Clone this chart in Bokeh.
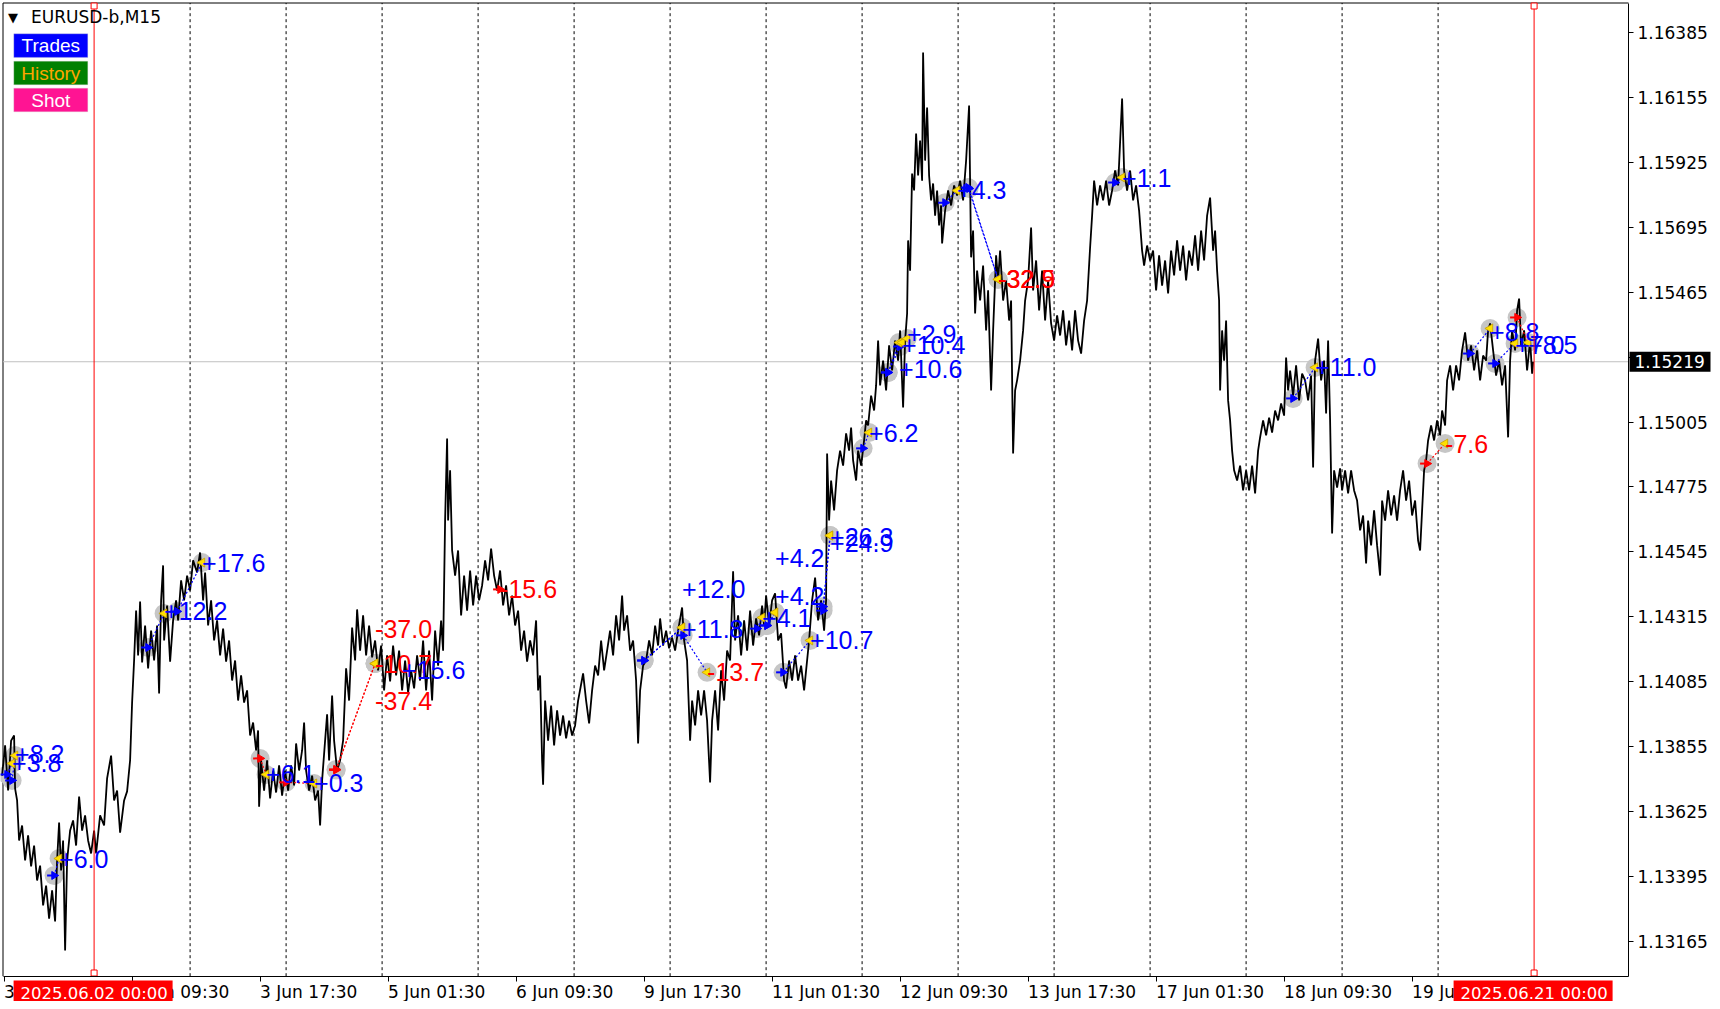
import math
from bokeh.plotting import figure
from bokeh.models import Label, FixedTicker, PrintfTickFormatter, ColumnDataSource, BoxAnnotation
from bokeh.core.properties import value
from bokeh.embed import file_html
from bokeh.resources import INLINE

# ---------------- data ----------------
SYMBOL = "EURUSD-b,M15"
BARS_PER_DAY = 96  # M15 bars
trading_days = ["30 May", "2 Jun", "3 Jun", "4 Jun", "5 Jun", "6 Jun", "9 Jun", "10 Jun",
                "11 Jun", "12 Jun", "13 Jun", "16 Jun", "17 Jun", "18 Jun", "19 Jun", "20 Jun", "21 Jun"]
tick_labels = ["30 May 01:30", "2 Jun 09:30", "3 Jun 17:30", "5 Jun 01:30", "6 Jun 09:30",
               "9 Jun 17:30", "11 Jun 01:30", "12 Jun 09:30", "13 Jun 17:30", "17 Jun 01:30",
               "18 Jun 09:30", "19 Jun 17:30"]
marker_days = ["2 Jun", "21 Jun"]
marker_texts = ["2025.06.02 00:00", "2025.06.21 00:00"]
current_price = 1.15219
y_ticks = [1.13165, 1.13395, 1.13625, 1.13855, 1.14085, 1.14315, 1.14545, 1.14775,
           1.15005, 1.15235, 1.15465, 1.15695, 1.15925, 1.16155, 1.16385]
y_tick_text = ["1.13165", "1.13395", "1.13625", "1.13855", "1.14085", "1.14315", "1.14545", "1.14775",
               "1.15005", "", "1.15465", "1.15695", "1.15925", "1.16155", "1.16385"]

# price path (bar number from 2025.06.02 00:00, price), swing points
price_bar = [
    -92, -89, -86, -83, -80, -79, -77, -75, -72, -69, -66, -63, -60, -57, -54, -51, -48, -45, -42, -39,
    -37, -35, -33, -31, -29, -27, -24, -21, -18, -15, -12, -9, -6, -3,
    0, 2, 6, 10, 13, 17, 20, 23, 26, 30, 33, 36, 38, 40, 42, 44, 46, 48, 51, 54, 57, 60, 63, 65, 67, 69,
    70, 73, 76, 79, 82, 84, 87, 90, 93, 96, 99, 103, 106,
    109, 111, 114, 117, 120, 123, 126, 129, 132, 135, 138, 141, 144, 147, 150, 153, 156, 159, 162, 164,
    165, 167, 170, 173, 176, 179, 182, 185, 188, 191,
    194, 197, 200, 202, 205, 208, 210, 212, 215, 218, 221, 224, 226, 228, 231, 233, 235, 238, 240, 243,
    246, 249, 252, 255, 258, 261, 263, 266, 269, 272, 275, 278, 281, 284, 287,
    290, 293, 296, 299, 302, 305, 308, 311, 314, 317, 320, 323, 326, 329, 332, 335, 338, 341, 344, 347,
    349, 351, 353, 354, 356, 358, 361, 364, 367, 370, 373, 376, 379, 382, 385,
    388, 391, 394, 397, 400, 403, 406, 409, 412, 415, 418, 421, 424, 427, 430, 433, 436, 439, 442, 444,
    446, 448, 449, 451, 454, 457, 460, 463, 466, 469, 472, 475, 478, 481,
    484, 489, 492, 495, 498, 501, 504, 507, 510, 513, 516, 519, 522, 525, 528, 530, 533, 536, 539, 542,
    544, 546, 549, 552, 555, 558, 561, 564, 566, 569, 572, 575,
    578, 581, 584, 588, 590, 593, 596, 598, 601, 604, 607, 610, 613, 616, 618, 621, 624, 627, 630, 633,
    636, 639, 641, 644, 647, 650, 653, 656, 659, 662, 665, 668, 670, 672,
    675, 678, 681, 684, 687, 690, 692, 695, 698, 701, 704, 707, 710, 712, 715, 718, 721, 724, 727, 730,
    732, 733, 735, 737, 740, 743, 746, 749, 752, 755, 757, 759, 762, 764, 767,
    770, 772, 774, 777, 780, 782, 784, 786, 789, 792, 795, 798, 801, 804, 806, 809, 811, 813, 814, 816,
    818, 820, 822, 824, 826, 828, 829, 831, 833, 835, 837, 839, 841, 843, 845, 847, 848, 851, 854, 857,
    860, 863,
    866, 869, 872, 875, 877, 879, 881, 883, 886, 889, 892, 894, 897, 899, 902, 904, 906, 909, 912, 915,
    917, 919, 921, 923, 926, 929, 931, 934, 937, 939, 942, 945, 948, 951, 954, 957,
    960, 963, 966, 969, 972, 975, 978, 981, 984, 987, 990, 993, 996, 998, 1000, 1003, 1006, 1009, 1012,
    1015, 1018, 1021, 1024, 1028, 1030, 1033, 1036, 1039, 1042, 1045, 1048, 1050, 1053, 1056,
    1059, 1062, 1065, 1068, 1071, 1074, 1077, 1080, 1083, 1086, 1089, 1092, 1095, 1098, 1101, 1104, 1107,
    1110, 1113, 1116, 1119, 1121, 1123, 1125, 1126, 1128, 1130, 1132, 1134, 1136, 1138, 1140, 1143, 1146,
    1149, 1152,
    1155, 1158, 1161, 1164, 1166, 1169, 1172, 1175, 1178, 1181, 1184, 1187, 1190, 1192, 1194, 1196, 1199,
    1202, 1205, 1208, 1211, 1214, 1217, 1219, 1221, 1224, 1227, 1230, 1232, 1234, 1236, 1238, 1240, 1243,
    1246, 1248,
    1251, 1254, 1257, 1260, 1263, 1266, 1269, 1272, 1274, 1277, 1280, 1283, 1286, 1288, 1291, 1294, 1297,
    1300, 1303, 1306, 1309, 1312, 1315, 1318, 1321, 1324, 1326, 1328, 1330, 1332, 1334, 1337, 1340, 1343,
    1346,
    1348, 1351, 1353, 1356, 1359, 1362, 1365, 1368, 1371, 1374, 1377, 1380, 1383, 1386, 1389, 1392, 1394,
    1396, 1399, 1402, 1405, 1408, 1411, 1414, 1416, 1418, 1421, 1423, 1425, 1427, 1430, 1433, 1436, 1438,
    1439,
]
price_value = [
    1.13752, 1.13859, 1.13699, 1.13876, 1.13894, 1.13706, 1.13664, 1.13522, 1.13575, 1.13451, 1.13540,
    1.13430, 1.13504, 1.13380, 1.13433, 1.13292, 1.13362, 1.13245, 1.13345, 1.13235,
    1.13451, 1.13586, 1.13416, 1.13522, 1.13132, 1.13451, 1.13557, 1.13593, 1.13504, 1.13678, 1.13557,
    1.13611, 1.13522, 1.13476,
    1.13557, 1.13476, 1.13611, 1.13575, 1.13742, 1.13823, 1.13664, 1.13699, 1.13550, 1.13664, 1.13696,
    1.13806, 1.14011, 1.14160, 1.14337, 1.14178, 1.14369, 1.14153, 1.14284, 1.14132, 1.14266, 1.14160,
    1.14284, 1.14043, 1.14373, 1.14497,
    1.14231, 1.14355, 1.14156, 1.14302, 1.14373, 1.14302, 1.14444, 1.14373, 1.14461, 1.14408, 1.14515,
    1.14472, 1.14543,
    1.14373, 1.14472, 1.14284, 1.14373, 1.14231, 1.14302, 1.14178, 1.14273, 1.14156, 1.14231, 1.14089,
    1.14160, 1.14018, 1.14107, 1.14011, 1.14054, 1.13894, 1.13940, 1.13841, 1.13912,
    1.13642, 1.13806, 1.13699, 1.13806, 1.13671, 1.13770, 1.13692, 1.13788, 1.13681, 1.13770,
    1.13699, 1.13788, 1.13717, 1.13866, 1.13770, 1.13841, 1.13940, 1.13770, 1.13699, 1.13752, 1.13664,
    1.13699, 1.13575, 1.13735, 1.13876, 1.13969, 1.13806, 1.14036, 1.13876, 1.13770,
    1.13806, 1.13876, 1.14132, 1.14018, 1.14277, 1.14160, 1.14341, 1.14195, 1.14320, 1.14178, 1.14284,
    1.14171, 1.14231, 1.14125, 1.14213,
    1.14054, 1.14178, 1.14086, 1.14213, 1.14107, 1.14195, 1.14054, 1.14160, 1.14047, 1.14125, 1.14061,
    1.14178, 1.14089, 1.14231, 1.14054, 1.14195, 1.14018, 1.14266, 1.14142, 1.14302,
    1.14195, 1.14656, 1.14947, 1.14656, 1.14834, 1.14550, 1.14461, 1.14550, 1.14320, 1.14461, 1.14337,
    1.14479, 1.14355, 1.14461, 1.14373,
    1.14426, 1.14515, 1.14444, 1.14557, 1.14461, 1.14408, 1.14479, 1.14355, 1.14426, 1.14320, 1.14390,
    1.14284, 1.14337, 1.14195, 1.14266, 1.14156, 1.14231, 1.14178, 1.14302, 1.14054,
    1.14107, 1.13806, 1.13720, 1.14018, 1.13876, 1.14000, 1.13859, 1.13983, 1.13894, 1.13965, 1.13884,
    1.13947, 1.13894, 1.13930,
    1.14018, 1.14114, 1.14018, 1.13937, 1.14054, 1.14142, 1.14107, 1.14231, 1.14125, 1.14195, 1.14266,
    1.14178, 1.14320, 1.14231, 1.14390, 1.14266, 1.14320, 1.14195, 1.14231, 1.14089,
    1.13866, 1.14054, 1.14142, 1.14160, 1.14231, 1.14178, 1.14284, 1.14213, 1.14309, 1.14213, 1.14266,
    1.14203,
    1.14242, 1.14195, 1.14266, 1.14348, 1.14231, 1.14160, 1.13876, 1.14018, 1.13930, 1.14054, 1.13965,
    1.14054, 1.13947, 1.13728, 1.13947, 1.14054, 1.13912, 1.14125, 1.14018, 1.14195,
    1.14160, 1.14476, 1.14231, 1.14320, 1.14178, 1.14302, 1.14195, 1.14337, 1.14213, 1.14309, 1.14249,
    1.14355, 1.14284, 1.14390,
    1.14284, 1.14373, 1.14398, 1.14231, 1.14256, 1.14089, 1.14061, 1.14160, 1.14089, 1.14178, 1.14089,
    1.14142, 1.14054, 1.14125, 1.14231, 1.14373, 1.14454, 1.14302, 1.14373, 1.14266,
    1.14373, 1.14894, 1.14656, 1.14798, 1.14692, 1.14834, 1.14904, 1.14851, 1.14965, 1.14904, 1.14986,
    1.14869, 1.14798, 1.14904, 1.14851,
    1.14940, 1.15011, 1.14993, 1.15099, 1.15046, 1.15135, 1.15294, 1.15135, 1.15223, 1.15117, 1.15277,
    1.15188, 1.15294, 1.15223, 1.15330, 1.15057, 1.15294, 1.15390, 1.15649, 1.15542,
    1.15886, 1.15826, 1.16028, 1.15879, 1.16003, 1.15861, 1.16315, 1.15932, 1.16120, 1.15879, 1.15791,
    1.15851, 1.15737, 1.15826, 1.15702, 1.15773, 1.15638, 1.15755, 1.15826, 1.15773,
    1.15844, 1.15808,
    1.15861, 1.15791, 1.15932, 1.16127, 1.15589, 1.15684, 1.15390, 1.15542, 1.15436, 1.15560, 1.15330,
    1.15472, 1.15117, 1.15330, 1.15596, 1.15507, 1.15613, 1.15436, 1.15507, 1.15365,
    1.15436, 1.14894, 1.15117, 1.15153, 1.15223, 1.15330, 1.15436, 1.15507, 1.15695, 1.15472, 1.15578,
    1.15401, 1.15542, 1.15365, 1.15507, 1.15355,
    1.15294, 1.15383, 1.15312, 1.15401, 1.15277, 1.15365, 1.15259, 1.15401, 1.15294, 1.15248, 1.15365,
    1.15436, 1.15624, 1.15737, 1.15861, 1.15773, 1.15844, 1.15791, 1.15861,
    1.15773, 1.15826, 1.15897, 1.15844, 1.16152, 1.15897, 1.15826, 1.15897, 1.15791, 1.15844, 1.15755,
    1.15613, 1.15560, 1.15631, 1.15578,
    1.15613, 1.15472, 1.15596, 1.15489, 1.15578, 1.15461, 1.15613, 1.15525, 1.15649, 1.15542, 1.15631,
    1.15507, 1.15613, 1.15560, 1.15667, 1.15542, 1.15684,
    1.15578, 1.15737, 1.15801, 1.15613, 1.15684, 1.15542, 1.15436, 1.15117, 1.15330, 1.15223, 1.15365,
    1.15082, 1.15011, 1.14904, 1.14834, 1.14798, 1.14851,
    1.14763, 1.14834,
    1.14763, 1.14851, 1.14752, 1.14904, 1.14951, 1.15011, 1.14958, 1.15021, 1.14968, 1.15046, 1.15011,
    1.15071, 1.15028, 1.15234, 1.15117, 1.15188, 1.15099,
    1.15206, 1.15082, 1.15177, 1.15153, 1.15082, 1.15170, 1.14844, 1.15223, 1.15301, 1.15153, 1.15223,
    1.15036, 1.15294, 1.15011, 1.14610, 1.14834, 1.14773,
    1.14841, 1.14763,
    1.14834, 1.14752, 1.14834, 1.14763, 1.14727, 1.14621, 1.14674, 1.14504, 1.14656, 1.14568, 1.14692,
    1.14568, 1.14461, 1.14727, 1.14656, 1.14763, 1.14674,
    1.14745, 1.14656, 1.14763, 1.14834, 1.14727, 1.14798, 1.14674, 1.14727, 1.14585, 1.14550, 1.14692,
    1.14834, 1.14869, 1.14940, 1.14993, 1.14940, 1.15011,
    1.14958,
    1.15046, 1.14993, 1.15153, 1.15206, 1.15117, 1.15206, 1.15153, 1.15259, 1.15323, 1.15223, 1.15277,
    1.15188, 1.15259, 1.15153, 1.15241, 1.15223, 1.15330,
    1.15355, 1.15259, 1.15170, 1.15223, 1.15135, 1.15206, 1.14951, 1.15223, 1.15330, 1.15259, 1.15401,
    1.15443, 1.15277, 1.15330, 1.15188, 1.15294, 1.15177,
    1.15219,
]

# closed trades (history)
trade_type = ["buy", "buy", "buy", "buy", "buy", "sell", "sell", "sell", "sell", "sell",
              "buy", "buy", "buy", "buy", "buy", "buy", "buy", "buy", "buy", "buy",
              "buy", "buy", "buy", "buy", "buy", "buy", "buy", "buy", "sell", "buy", "buy", "sell"]
open_bar = [-87, -82, -40, 54, 83, 166, 192, 242, 242, None,
            550, 550, 589, 663, 673, 673, 689, 729, 729, 769,
            794, 794, 806, 851, 874, 875, 1021, 1199, 1333, 1376, 1401, 1423]
open_price = [1.13756, 1.13735, 1.13398, 1.14206, 1.14334, 1.13813, 1.13728, 1.13774, 1.13772, None,
              1.14160, 1.14160, 1.14249, 1.14273, 1.14284, 1.14284, 1.14118, 1.14337, 1.14351, 1.14912,
              1.15181, 1.15181, 1.15273, 1.15783, 1.15837, 1.15833, 1.15854, 1.15089, 1.14858, 1.15248,
              1.15213, 1.15376]
close_bar = [-82, -79, -35, 70, 108, 172, 220, 281, 281, 281,
             588, 588, 613, 668, 681, 681, 716, 736, 736, 775,
             805, 808, 813, 863, 904, 904, 1028, 1221, 1351, 1396, 1421, 1434]
close_price = [1.13795, 1.13823, 1.13458, 1.14327, 1.14507, 1.13756, 1.13724, 1.14149, 1.14149, 1.14149,
               1.14277, 1.14277, 1.14118, 1.14312, 1.14330, 1.14330, 1.14231, 1.14603, 1.14603, 1.14968,
               1.15287, 1.15287, 1.15301, 1.15826, 1.15511, 1.15511, 1.15872, 1.15199, 1.14929, 1.15337,
               1.15284, 1.15287]
trade_profit = [3.8, 8.2, 6.0, 12.2, 17.6, 6.1, 0.3, -37.0, -37.4, -10.7,
                11.8, 12.0, -13.7, 4.1, 4.2, 4.2, 10.7, 26.3, 24.9, 6.2,
                10.6, 10.4, 2.9, 4.3, -32.9, -32.5, 1.1, 11.0, -7.6, 8.8, 7.0, 8.5]
label_price = [1.13795, 1.13830, 1.13458, 1.14334, 1.14507, 1.13759, 1.13724, 1.14273, 1.14018, 1.14149,
               1.14273, 1.14415, 1.14118, 1.14309, 1.14390, 1.14525, 1.14231, 1.14596, 1.14575, 1.14965,
               1.15195, 1.15277, 1.15316, 1.15826, 1.15514, 1.15514, 1.15869, 1.15199, 1.14929, 1.15326,
               1.15277, 1.15277]

# loose labels without a full trade on screen
loose_type = ["buy", "sell"]
loose_bar = [308, 406]
loose_price = [1.14125, 1.14412]
loose_profit = [15.6, -15.6]

panel_buttons = ["Trades", "History", "Shot"]
panel_fill = ["#0000FF", "#008000", "#FF1493"]
panel_text = ["#FFFFFF", "#FFA500", "#FFFFFF"]

# ---------------- helpers ----------------
def bar_of(day, hhmm="00:00"):
    h, m = (int(v) for v in hhmm.split(":"))
    return (trading_days.index(day) - trading_days.index("2 Jun")) * BARS_PER_DAY + h * 4 + m // 15

def fmt_profit(v):
    return ("+" if v >= 0 else "-") + f"{abs(v):.1f}"

BUY_C, SELL_C = "#0000FF", "#FF0000"
AX_FONT = "DejaVu Sans"
LBL_FONT = "Liberation Sans"

# ---------------- layout (screen geometry of the terminal window) ----------------
W, H = 1712, 1001
PX_PER_PRICE = 28211.0          # chart pixels per price unit
BAR0_PX = 93.6                  # pixel column of bar 0

def fx(px):                     # window pixel column -> bar coordinate
    return px - BAR0_PX

def fy(py):                     # window pixel row -> price coordinate
    return y_ticks[-1] - (py - 32.3) / PX_PER_PRICE

X0, X1 = fx(0), fx(W)
Y0, Y1 = fy(H), fy(0)
XL, XR = fx(2.5), fx(1628)      # chart box
YT, YB = fy(2.5), fy(975.7)

p = figure(width=W, height=H, x_range=(X0, X1), y_range=(Y0, Y1),
           output_backend="svg", toolbar_location=None, y_axis_location="right",
           min_border_left=0, min_border_right=0, min_border_top=0, min_border_bottom=0)
p.xgrid.visible = False
p.ygrid.visible = False
p.outline_line_color = None
p.background_fill_color = "white"
p.border_fill_color = "white"

xa = p.xaxis[0]
tick_pos = []
for lbl in tick_labels:
    parts = lbl.split(" ")
    tick_pos.append(bar_of(parts[0] + " " + parts[1], parts[2]))
xa.fixed_location = YB
xa.bounds = (XL, XR)
xa.ticker = FixedTicker(ticks=tick_pos, minor_ticks=[])
xa.major_label_overrides = {b: l for b, l in zip(tick_pos, tick_labels)}
xa.major_label_orientation = -1e-6
xa.major_label_text_align = "left"
xa.major_label_text_font = AX_FONT
xa.major_label_text_font_size = "17px"
xa.major_label_text_color = "black"
xa.major_tick_out = 5
xa.major_tick_in = 0
xa.minor_tick_out = 0
xa.minor_tick_in = 0
xa.major_label_standoff = 11
xa.axis_line_color = "black"
xa.major_tick_line_color = "black"

ya = p.yaxis[0]
ya.fixed_location = XR
ya.bounds = (YB, YT)
ya.ticker = FixedTicker(ticks=y_ticks, minor_ticks=[])
ya.major_label_overrides = {t: s for t, s in zip(y_ticks, y_tick_text)}
ya.formatter = PrintfTickFormatter(format="%.5f")
ya.major_label_text_font = AX_FONT
ya.major_label_text_font_size = "17px"
ya.major_label_text_color = "black"
ya.major_tick_out = 5
ya.major_tick_in = 0
ya.minor_tick_out = 0
ya.minor_tick_in = 0
ya.major_label_standoff = 4
ya.axis_line_color = "black"

# chart box top / left edges
p.segment(x0=[XL, XL], y0=[YT, YB], x1=[XR, XL], y1=[YT, YT], line_color="black", line_width=1)

# day separators
sep = [bar_of(d) for d in trading_days[2:-1]]
p.segment(x0=sep, y0=[YB] * len(sep), x1=sep, y1=[YT] * len(sep), line_color="black",
          line_dash="3 3", line_width=1)

# current price line
p.segment(x0=[XL], y0=[current_price], x1=[XR], y1=[current_price], line_color="#C0C0C0", line_width=1)

# trade circles (under price)
cx, cy = [], []
for ob, op, cb, cp in zip(open_bar, open_price, close_bar, close_price):
    if ob is not None:
        cx.append(ob); cy.append(op)
    if cb is not None:
        cx.append(cb); cy.append(cp)
p.scatter(cx, cy, size=19, marker="circle", fill_color="#C6C6C6", line_color=None)

# price
p.line(price_bar, price_value, line_color="black", line_width=1.8)

# trade connection lines
seg = dict(x0=[], y0=[], x1=[], y1=[], c=[])
for t, ob, op, cb, cp in zip(trade_type, open_bar, open_price, close_bar, close_price):
    if ob is None:
        continue
    seg["x0"].append(ob); seg["y0"].append(op); seg["x1"].append(cb); seg["y1"].append(cp)
    seg["c"].append(BUY_C if t == "buy" else SELL_C)
p.segment("x0", "y0", "x1", "y1", source=ColumnDataSource(seg), line_color="c",
          line_dash="2 2", line_width=1.2)

# open arrows
ox, oy, oc = [], [], []
for t, ob, op in zip(trade_type, open_bar, open_price):
    if ob is not None:
        ox.append(ob); oy.append(op); oc.append(BUY_C if t == "buy" else SELL_C)
for t, b, pr in zip(loose_type, loose_bar, loose_price):
    if t == "sell":
        ox.append(b); oy.append(pr); oc.append(SELL_C)
osrc = ColumnDataSource(dict(x=ox, y=oy, xt=[v - 3 for v in ox], c=oc))
p.scatter("xt", "y", source=osrc, marker="dash", size=8, line_color="c", line_width=2)
p.scatter("x", "y", source=osrc, marker="triangle", angle=-math.pi / 2, size=8,
          fill_color="c", line_color="c")

# close arrows
p.scatter(list(close_bar), list(close_price), marker="triangle", angle=math.pi / 2, size=9,
          fill_color="#FFE000", line_color="#C8A000", line_width=0.8)

# profit labels
lx, ly, lt, lc = [], [], [], []
for cb, lp, pf in zip(close_bar, label_price, trade_profit):
    lx.append(cb); ly.append(lp); lt.append(fmt_profit(pf)); lc.append(BUY_C if pf >= 0 else SELL_C)
for b, pr, pf in zip(loose_bar, loose_price, loose_profit):
    lx.append(b); ly.append(pr); lt.append(fmt_profit(pf)); lc.append(BUY_C if pf >= 0 else SELL_C)
p.text("x", "y", text="t", source=ColumnDataSource(dict(x=lx, y=ly, t=lt, c=lc)),
       text_color="c", text_font=value(LBL_FONT), text_font_size=value("25px"),
       text_align="left", text_baseline="middle")

# red period markers
mk = [bar_of(d) for d in marker_days]
p.segment(x0=mk, y0=[YB] * len(mk), x1=mk, y1=[YT] * len(mk), line_color="#FF0000", line_width=1)
p.scatter(mk + mk, [fy(5.5)] * len(mk) + [fy(972.5)] * len(mk), marker="square", size=6,
          fill_color="white", line_color="#FF0000", line_width=1)
for b, txt in zip(mk, marker_texts):
    p.add_layout(BoxAnnotation(left=b - 80.5, right=b + 78.5, top=fy(980), bottom=fy(1004),
                               fill_color="#FF0000", fill_alpha=1.0, line_color=None))
    p.add_layout(Label(x=b, y=fy(992.5), text=txt, text_align="center",
                       text_baseline="middle", text_color="white", text_font=AX_FONT,
                       text_font_size="16.5px"))

# current price tag
p.add_layout(BoxAnnotation(left=XR + 1, right=fx(1710), top=current_price + 10 / PX_PER_PRICE,
                           bottom=current_price - 10 / PX_PER_PRICE,
                           fill_color="black", fill_alpha=1.0, line_color=None))
p.add_layout(Label(x=XR, y=current_price, x_offset=6, text=f"{current_price:.5f}", text_align="left",
                   text_baseline="middle", text_color="white", text_font=AX_FONT,
                   text_font_size="17px"))

# symbol title
p.add_layout(Label(x=XL, y=YT, x_offset=5, y_offset=-14, text="\u25BC", text_font=AX_FONT,
                   text_font_size="13px", text_color="black", text_baseline="middle"))
p.add_layout(Label(x=XL, y=YT, x_offset=28, y_offset=-14, text=SYMBOL, text_font=AX_FONT,
                   text_font_size="17px", text_color="black", text_baseline="middle"))

# panel buttons
btn_tops = [33.3, 60.7, 87.7]
for name, fc, tc, top in zip(panel_buttons, panel_fill, panel_text, btn_tops):
    p.add_layout(BoxAnnotation(left=fx(13.3), right=fx(87.3), top=fy(top), bottom=fy(top + 23.6),
                               fill_color=fc, fill_alpha=1.0, line_color="#D0D0D0", line_width=1))
    p.add_layout(Label(x=fx(50.3), y=fy(top + 11.8), text=name, text_align="center",
                       text_baseline="middle", text_color=tc, text_font=LBL_FONT,
                       text_font_size="19px"))

open("out.html", "w").write(file_html(p, INLINE))
